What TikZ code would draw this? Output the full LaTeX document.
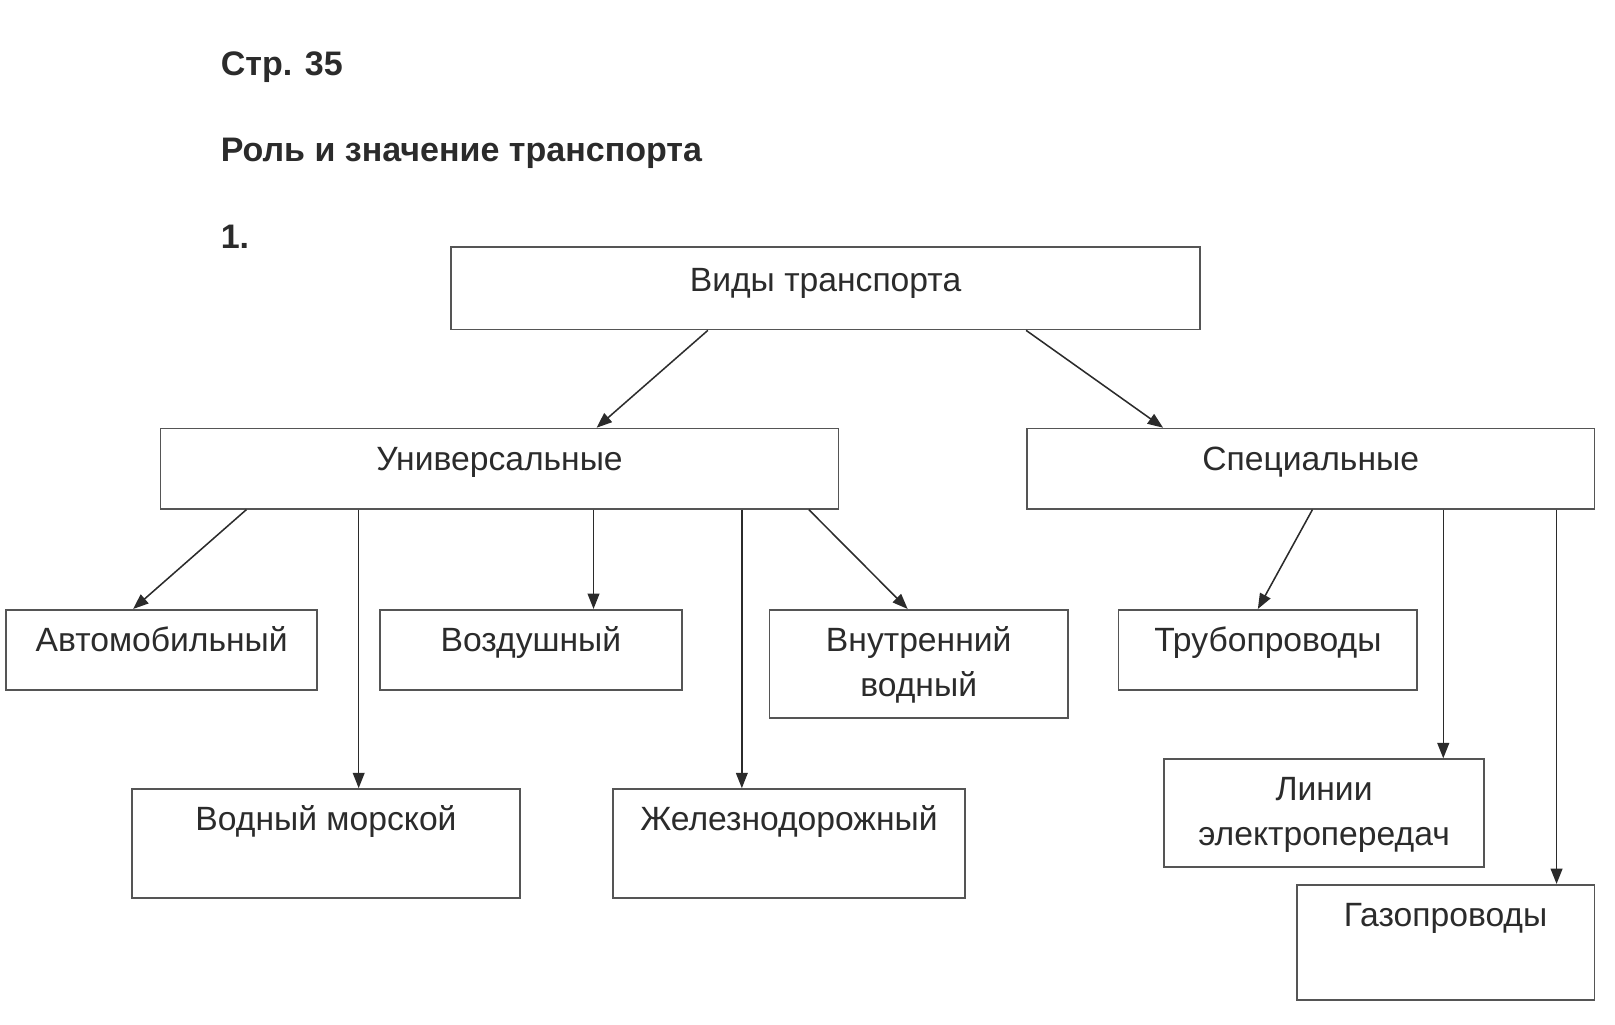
\documentclass[tikz,border=0pt]{standalone}
\usepackage{fontspec}
\setmainfont{Liberation Sans}
\usetikzlibrary{arrows.meta,calc,fit}
\definecolor{boxgray}{HTML}{555555}
\definecolor{inkgray}{HTML}{2B2B2B}
\tikzset{
  frame/.style={draw=boxgray, line width=0.85pt, inner sep=0pt},
  caption/.style={anchor=base, inner sep=0pt, text=inkgray, align=center,
    font=\fontsize{18.6}{25}\selectfont},
  heading/.style={anchor=base west, inner sep=0pt, text=inkgray,
    font=\bfseries\fontsize{18.8}{22}\selectfont},
  link/.style={draw=inkgray, line width=0.85pt, -{Triangle[length=8.5pt,width=6.5pt]}}
}
\begin{document}
\begin{tikzpicture}[x=0.02cm,y=-0.02cm]
  \useasboundingbox (0,0) rectangle (1568,995);
  % headings
  \node[heading] (page) at (214,73) {Стр. 35};
  \node[heading] (title) at (214,157) {Роль и значение транспорта};
  \node[heading] (num) at (214,241) {1.};
  % boxes
  \node[frame, fit={(438,240) (1165,320)}] (vidy) {};
  \node[frame, fit={(156,416) (814,494)}] (univ) {};
  \node[frame, fit={(997,416) (1548,494)}] (spec) {};
  \node[frame, fit={(6,592) (308,670)}] (auto) {};
  \node[frame, fit={(369,592) (662,670)}] (vozd) {};
  \node[frame, fit={(747,592) (1037,697)}] (vnutr) {};
  \node[frame, fit={(1086,592) (1376,670)}] (truba) {};
  \node[frame, fit={(128,766) (505,872)}] (vodmor) {};
  \node[frame, fit={(595,766) (937,872)}] (zhd) {};
  \node[frame, fit={(1130,737) (1441,842)}] (lep) {};
  \node[frame, fit={(1259,859) (1548,971)}] (gaz) {};
  % captions (two-line ones sit on their last line)
  \node[caption] (vidyT) at ($(vidy.north)+(0,44)$) {Виды транспорта};
  \node[caption] (univT) at ($(univ.north)+(0,42)$) {Универсальные};
  \node[caption] (specT) at ($(spec.north)+(0,42)$) {Специальные};
  \node[caption] (autoT) at ($(auto.north)+(0,41)$) {Автомобильный};
  \node[caption] (vozdT) at ($(vozd.north)+(0,41)$) {Воздушный};
  \node[caption] (vnutrT) at ($(vnutr.north)+(0,85)$) {Внутренний\\водный};
  \node[caption] (trubaT) at ($(truba.north)+(0,41)$) {Трубопроводы};
  \node[caption] (vodmorT) at ($(vodmor.north)+(0,41)$) {Водный морской};
  \node[caption] (zhdT) at ($(zhd.north)+(0,41)$) {Железнодорожный};
  \node[caption] (lepT) at ($(lep.north)+(0,85)$) {Линии\\электропередач};
  \node[caption] (gazT) at ($(gaz.north)+(0,41)$) {Газопроводы};
  % arrows
  \draw[link] ($(vidy.south west)+(250,0)$) -- ($(univ.north west)+(424,0)$);
  \draw[link] ($(vidy.south west)+(559,0)$) -- ($(spec.north west)+(133,0)$);
  \draw[link] ($(univ.south west)+(84,0)$) -- ($(auto.north west)+(124,0)$);
  \draw[link] ($(univ.south west)+(193,0)$) -- ($(vodmor.north west)+(221,0)$);
  \draw[link] ($(univ.south west)+(421,0)$) -- ($(vozd.north west)+(208,0)$);
  \draw[link] ($(univ.south west)+(565,0)$) -- ($(zhd.north west)+(126,0)$);
  \draw[link] ($(univ.south west)+(630,0)$) -- ($(vnutr.north west)+(135,0)$);
  \draw[link] ($(spec.south west)+(278,0)$) -- ($(truba.north west)+(136,0)$);
  \draw[link] ($(spec.south west)+(405,0)$) -- ($(lep.north west)+(272,0)$);
  \draw[link] ($(spec.south west)+(515,0)$) -- ($(gaz.north west)+(253,0)$);
\end{tikzpicture}
\end{document}
